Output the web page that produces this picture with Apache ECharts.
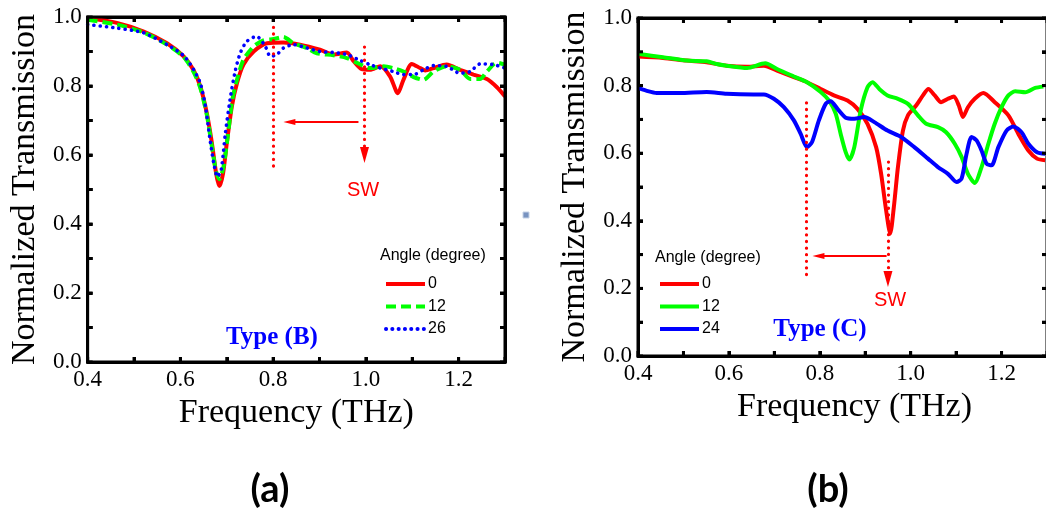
<!DOCTYPE html>
<html>
<head>
<meta charset="utf-8">
<script src="https://cdn.jsdelivr.net/npm/echarts@6/dist/echarts.min.js"></script>
<style>
  html, body { margin: 0; padding: 0; background: #fff; overflow: hidden; width: 1046px; height: 515px; }
  .panel { position: absolute; top: 0; height: 515px; }
  #panelA { left: 0; width: 520px; }
  #panelB { left: 520px; width: 530px; }
</style>
</head>
<body>
<div class="panel" id="panelA"></div>
<div class="panel" id="panelB"></div>
<script>
// Panel (a): Type (B) transmission spectra, [frequency THz, normalized transmission]
const typeB_0deg = [
  [0.400,0.997],[0.463,0.983],[0.521,0.958],[0.571,0.924],[0.607,0.886],[0.628,0.847],
  [0.643,0.799],[0.657,0.721],[0.668,0.634],[0.677,0.547],[0.684,0.510],[0.692,0.547],
  [0.700,0.634],[0.711,0.741],[0.722,0.808],[0.736,0.862],[0.758,0.900],[0.787,0.924],
  [0.822,0.926],[0.858,0.920],[0.901,0.905],[0.930,0.891],[0.959,0.897],[0.973,0.873],
  [0.991,0.849],[1.009,0.847],[1.031,0.857],[1.052,0.828],[1.069,0.779],[1.081,0.818],
  [1.099,0.864],[1.117,0.852],[1.128,0.845],[1.146,0.852],[1.174,0.862],[1.203,0.847],
  [1.232,0.833],[1.261,0.820],[1.282,0.797],[1.300,0.770]
];
const typeB_12deg = [
  [0.400,0.992],[0.463,0.978],[0.521,0.955],[0.571,0.920],[0.607,0.884],[0.628,0.842],
  [0.643,0.794],[0.657,0.716],[0.668,0.624],[0.677,0.552],[0.684,0.530],[0.693,0.566],
  [0.702,0.653],[0.712,0.760],[0.723,0.823],[0.736,0.876],[0.758,0.915],[0.779,0.932],
  [0.801,0.936],[0.822,0.942],[0.844,0.924],[0.873,0.910],[0.894,0.895],[0.930,0.889],
  [0.959,0.881],[0.980,0.868],[1.009,0.852],[1.038,0.857],[1.059,0.852],[1.081,0.842],
  [1.103,0.826],[1.124,0.818],[1.146,0.842],[1.174,0.857],[1.203,0.847],[1.225,0.820],
  [1.246,0.820],[1.261,0.842],[1.282,0.868],[1.300,0.862]
];
const typeB_26deg = [
  [0.400,0.978],[0.463,0.968],[0.521,0.954],[0.571,0.920],[0.607,0.888],[0.628,0.849],
  [0.643,0.808],[0.654,0.741],[0.663,0.653],[0.672,0.576],[0.680,0.537],[0.688,0.557],
  [0.697,0.663],[0.707,0.760],[0.718,0.842],[0.729,0.895],[0.743,0.929],[0.764,0.944],
  [0.783,0.915],[0.794,0.886],[0.808,0.891],[0.822,0.910],[0.844,0.920],[0.873,0.910],
  [0.901,0.900],[0.930,0.897],[0.959,0.891],[0.988,0.874],[1.009,0.862],[1.031,0.852],
  [1.059,0.842],[1.081,0.833],[1.103,0.833],[1.124,0.847],[1.146,0.859],[1.174,0.857],
  [1.203,0.837],[1.225,0.842],[1.246,0.864],[1.275,0.862],[1.300,0.852]
];

// Panel (b): Type (C) transmission spectra
const typeC_0deg = [
  [0.400,0.886],[0.455,0.882],[0.507,0.874],[0.551,0.869],[0.595,0.859],[0.640,0.856],
  [0.677,0.859],[0.706,0.844],[0.743,0.825],[0.772,0.810],[0.802,0.790],[0.831,0.771],
  [0.861,0.756],[0.883,0.731],[0.905,0.687],[0.924,0.618],[0.935,0.539],[0.946,0.431],
  [0.955,0.362],[0.963,0.441],[0.972,0.559],[0.983,0.667],[0.994,0.712],[1.012,0.741],
  [1.027,0.771],[1.039,0.790],[1.053,0.771],[1.067,0.751],[1.082,0.761],[1.095,0.768],
  [1.106,0.741],[1.115,0.707],[1.126,0.736],[1.141,0.761],[1.160,0.778],[1.185,0.751],
  [1.215,0.712],[1.237,0.657],[1.259,0.608],[1.278,0.584],[1.296,0.579]
];
const typeC_12deg = [
  [0.400,0.894],[0.455,0.884],[0.507,0.874],[0.551,0.872],[0.573,0.864],[0.595,0.859],
  [0.640,0.852],[0.680,0.866],[0.706,0.849],[0.743,0.827],[0.772,0.810],[0.802,0.781],
  [0.820,0.756],[0.835,0.717],[0.846,0.657],[0.857,0.603],[0.865,0.581],[0.876,0.618],
  [0.890,0.726],[0.905,0.795],[0.916,0.810],[0.931,0.790],[0.949,0.771],[0.972,0.761],
  [0.994,0.746],[1.016,0.712],[1.034,0.687],[1.060,0.677],[1.078,0.662],[1.097,0.628],
  [1.112,0.589],[1.126,0.539],[1.141,0.512],[1.156,0.559],[1.171,0.628],[1.185,0.687],
  [1.200,0.736],[1.215,0.771],[1.230,0.783],[1.252,0.780],[1.274,0.793],[1.292,0.797]
];
const typeC_24deg = [
  [0.400,0.793],[0.418,0.785],[0.441,0.778],[0.492,0.778],[0.551,0.781],[0.595,0.776],
  [0.654,0.774],[0.677,0.774],[0.699,0.761],[0.721,0.736],[0.743,0.697],[0.758,0.657],
  [0.772,0.618],[0.783,0.633],[0.798,0.697],[0.813,0.746],[0.824,0.754],[0.839,0.731],
  [0.857,0.705],[0.876,0.702],[0.898,0.707],[0.920,0.692],[0.949,0.667],[0.979,0.648],
  [1.008,0.618],[1.038,0.584],[1.060,0.559],[1.082,0.539],[1.101,0.515],[1.112,0.525],
  [1.123,0.598],[1.134,0.648],[1.145,0.638],[1.156,0.608],[1.167,0.569],[1.178,0.564],
  [1.193,0.618],[1.211,0.667],[1.226,0.679],[1.244,0.662],[1.259,0.628],[1.278,0.603],
  [1.296,0.598]
];

// Guide markers: resonance line, SW arrow, shift arrow (data coordinates)
const markerB_resonance = [[0.800, 0.970], [0.800, 0.565]];
const markerB_sw        = [[0.997, 0.913], [0.997, 0.600]];
const markerB_shift     = [[0.984, 0.696], [0.835, 0.696]];
const markerC_resonance = [[0.771, 0.749], [0.771, 0.234]];
const markerC_sw        = [[0.950, 0.574], [0.950, 0.228]];
const markerC_shift     = [[0.947, 0.296], [0.797, 0.296]];

const freqRange = [0.4, 1.3];
const transRange = [0, 1];
const freqTicks = [0.4, 0.5, 0.6, 0.7, 0.8, 0.9, 1.0, 1.1, 1.2, 1.3];
const transTicks = [0, 0.1, 0.2, 0.3, 0.4, 0.5, 0.6, 0.7, 0.8, 0.9, 1.0];
const angleLabelsB = ['0', '12', '26'];
const angleLabelsC = ['0', '12', '24'];

const RED = '#ff0000', GREEN = '#00ff00', BLUE = '#0000ff';
const SERIF = '"Liberation Serif", "DejaVu Serif", serif';
const SANS = '"Liberation Sans", Arial, sans-serif';

function evenTenth(v) {
  return Math.round(v * 10) % 2 === 0 ? v.toFixed(1) : '';
}

function makeAxis(position, withLabels, range, name, nameGap, namePad) {
  const ax = {
    type: 'value', gridIndex: 0, position,
    min: range[0], max: range[1], interval: 0.1,
    axisLine: { show: true, onZero: false, lineStyle: { color: '#000', width: 3 } },
    axisTick: { show: true, inside: true, length: 5, lineStyle: { color: '#000', width: 3 } },
    axisLabel: withLabels
      ? { show: true, formatter: evenTenth, fontFamily: SERIF, fontSize: 23, color: '#000', margin: 6 }
      : { show: false },
    splitLine: { show: false }
  };
  if (name) {
    ax.name = name;
    ax.nameLocation = 'middle';
    ax.nameGap = nameGap;
    ax.nameTextStyle = { fontFamily: SERIF, fontSize: 34, color: '#000', padding: namePad || 0 };
  }
  return ax;
}

function lineSeries(name, data, color, dash, width) {
  const dotted = Array.isArray(dash) && dash[0] < 1;
  return {
    name, type: 'line', data,
    symbol: 'none', smooth: 0.25, clip: true,
    lineStyle: { color, width, type: dash, cap: dotted ? 'round' : 'butt' },
    itemStyle: { color },
    z: 3
  };
}

const dottedRed = { color: RED, width: 3.2, type: [0.1, 6.5], cap: 'round' };
const thinRed = { color: RED, width: 2, type: 'solid' };

function guideMarks(res, sw, shift) {
  return {
    silent: true, animation: false,
    label: { show: false },
    emphasis: { disabled: true },
    data: [
      [
        { coord: res[0], symbol: 'none', lineStyle: dottedRed },
        { coord: res[1], symbol: 'none', lineStyle: dottedRed }
      ],
      [
        { coord: sw[0], symbol: 'none', lineStyle: dottedRed },
        { coord: sw[1], symbol: 'triangle', symbolSize: [9, 16], itemStyle: { color: RED }, lineStyle: dottedRed }
      ],
      [
        { coord: shift[0], symbol: 'none', lineStyle: thinRed },
        { coord: shift[1], symbol: 'triangle', symbolSize: [6, 12], itemStyle: { color: RED }, lineStyle: thinRed }
      ]
    ]
  };
}

function legendFor(prefix, labels, left, top) {
  return {
    orient: 'vertical', left, top,
    itemWidth: 39, itemHeight: 14, itemGap: 6.5,
    selectedMode: false,
    itemStyle: { opacity: 0, borderWidth: 0 },
    lineStyle: { width: 4 },
    data: labels.map(l => prefix + '|' + l),
    formatter: n => n.split('|')[1],
    textStyle: { fontFamily: SANS, fontSize: 16, color: '#000', padding: [0, 0, 0, -2] }
  };
}

function txt(text, x, y, font, fill, align) {
  return {
    type: 'text', x, y, silent: true, z: 10,
    style: { text, font, fill, align: align || 'center', verticalAlign: 'middle',
             textAlign: align || 'center', textVerticalAlign: 'middle' }
  };
}

// Plot frame and inward ticks, placed through the chart's own axis scales
function frameElements(chart) {
  const lo = chart.convertToPixel({ gridIndex: 0 }, [freqRange[0], transRange[0]]);
  const hi = chart.convertToPixel({ gridIndex: 0 }, [freqRange[1], transRange[1]]);
  const x0 = lo[0], y0 = lo[1], x1 = hi[0], y1 = hi[1];
  const tickLen = 5;
  const stroke = { stroke: '#000', lineWidth: 3 };
  const els = [{
    type: 'rect', silent: true, z: 20,
    shape: { x: x0, y: y1, width: x1 - x0, height: y0 - y1 },
    style: { fill: 'none', stroke: '#000', lineWidth: 3 }
  }];
  freqTicks.forEach(f => {
    const x = chart.convertToPixel({ gridIndex: 0 }, [f, transRange[0]])[0];
    els.push({ type: 'line', silent: true, z: 20, shape: { x1: x, y1: y0, x2: x, y2: y0 - tickLen }, style: stroke });
    els.push({ type: 'line', silent: true, z: 20, shape: { x1: x, y1: y1, x2: x, y2: y1 + tickLen }, style: stroke });
  });
  transTicks.forEach(t => {
    const y = chart.convertToPixel({ gridIndex: 0 }, [freqRange[0], t])[1];
    els.push({ type: 'line', silent: true, z: 20, shape: { x1: x0, y1: y, x2: x0 + tickLen, y2: y }, style: stroke });
    els.push({ type: 'line', silent: true, z: 20, shape: { x1: x1, y1: y, x2: x1 - tickLen, y2: y }, style: stroke });
  });
  return els;
}

function drawPanel(domId, p) {
  const chart = echarts.init(document.getElementById(domId), null, { renderer: 'canvas' });
  chart.setOption({
    animation: false,
    grid: [{ left: p.grid[0], top: p.grid[1], width: p.grid[2], height: p.grid[3] }],
    xAxis: [
      makeAxis('bottom', true, freqRange, 'Frequency (THz)', 30, p.xNamePad),
      makeAxis('top', false, freqRange)
    ],
    yAxis: [
      makeAxis('left', true, transRange, 'Normalized Transmission', 44),
      makeAxis('right', false, transRange)
    ],
    legend: [legendFor(p.prefix, p.labels, p.legendPos[0], p.legendPos[1])],
    series: p.series
  });
  chart.setOption({ graphic: { elements: p.graphic.concat(frameElements(chart)) } });
  return chart;
}

const seriesB = [
  lineSeries('B|' + angleLabelsB[0], typeB_0deg, RED, 'solid', 4),
  lineSeries('B|' + angleLabelsB[1], typeB_12deg, GREEN, [10, 5], 4),
  lineSeries('B|' + angleLabelsB[2], typeB_26deg, BLUE, [0.1, 6.2], 3.6)
];
seriesB[0].markLine = guideMarks(markerB_resonance, markerB_sw, markerB_shift);

const seriesC = [
  lineSeries('C|' + angleLabelsC[0], typeC_0deg, RED, 'solid', 4),
  lineSeries('C|' + angleLabelsC[1], typeC_12deg, GREEN, 'solid', 4),
  lineSeries('C|' + angleLabelsC[2], typeC_24deg, BLUE, 'solid', 4)
];
seriesC[0].markLine = guideMarks(markerC_resonance, markerC_sw, markerC_shift);

drawPanel('panelA', {
  grid: [87, 17, 418, 345],
  prefix: 'B', labels: angleLabelsB, legendPos: [379, 271],
  series: seriesB,
  graphic: [
    txt('Angle (degree)', 380, 256, '16px ' + SANS, '#000', 'left'),
    txt('SW', 363, 190, '20px ' + SANS, RED),
    txt('Type (B)', 272, 338, 'bold 25px ' + SERIF, BLUE),
    txt('(a)', 270, 490, 'bold 38px Lato, "Open Sans", sans-serif', '#000')
  ]
});

drawPanel('panelB', {
  grid: [118, 18, 409, 338],
  xNamePad: [0, 0, 0, 24],
  prefix: 'C', labels: angleLabelsC, legendPos: [133, 271],
  series: seriesC,
  graphic: [
    txt('Angle (degree)', 135, 258, '16px ' + SANS, '#000', 'left'),
    txt('SW', 370, 300, '20px ' + SANS, RED),
    txt('Type (C)', 300, 330, 'bold 25px ' + SERIF, BLUE),
    txt('(b)', 308, 490, 'bold 38px Lato, "Open Sans", sans-serif', '#000'),
    { type: 'rect', silent: true, shape: { x: 3, y: 212, width: 6, height: 6 },
      style: { fill: '#7893c0', stroke: '#c5d2e6', lineWidth: 1 } }
  ]
});
</script>
</body>
</html>
